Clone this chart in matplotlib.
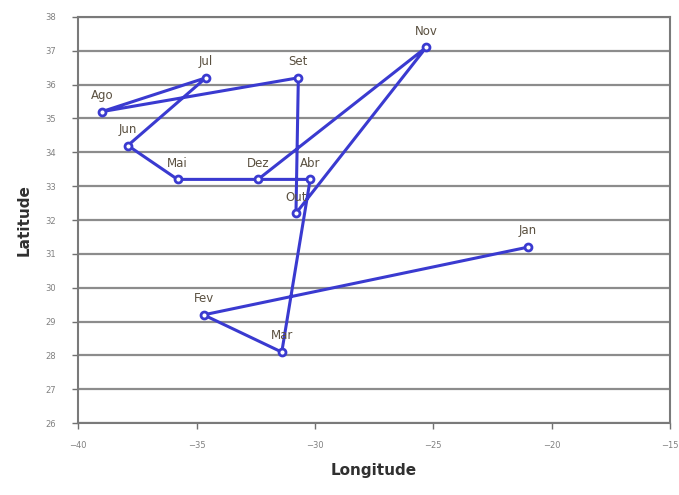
import matplotlib
matplotlib.use("Agg")
import matplotlib.pyplot as plt

# ─── Data ─────────────────────────────────────────────────────────────────────
months = ["Jan", "Fev", "Mar", "Abr", "Mai", "Jun", "Jul", "Ago", "Set", "Out", "Nov", "Dez"]
lon = [-21.0, -34.7, -31.4, -30.2, -35.8, -37.9, -34.6, -39.0, -30.7, -30.8, -25.3, -32.4]
lat = [31.2, 29.2, 28.1, 33.2, 33.2, 34.2, 36.2, 35.2, 36.2, 32.2, 37.1, 33.2]

BLUE = "#3a3ad0"
GRID = "#8c8c8c"

fig = plt.figure(figsize=(6.79, 4.95), dpi=100)
ax = fig.add_axes([0.115, 0.145, 0.872, 0.821])

ax.plot(lon, lat, color=BLUE, lw=2.2, marker="o", ms=5,
        mfc="white", mec=BLUE, mew=2, zorder=3)

for m, x, y in zip(months, lon, lat):
    ax.annotate(m, (x, y), xytext=(0, 7), textcoords="offset points",
                ha="center", va="bottom", fontsize=8.5, color="#5a5040", zorder=4)

ax.set_xlim(-40, -15)
ax.set_ylim(26, 38)
ax.set_xticks([-40, -35, -30, -25, -20, -15])
ax.set_yticks(range(26, 39))
ax.tick_params(labelsize=6, colors="#707070", length=4, width=1)
ax.tick_params(axis="x", pad=9)
ax.tick_params(axis="y", pad=12)
for lbl in ax.get_xticklabels() + ax.get_yticklabels():
    lbl.set_color("#808080")

ax.grid(True, axis="y", color=GRID, lw=1.6)
ax.set_axisbelow(True)
for s in ax.spines.values():
    s.set_color("#7a7a7a")
    s.set_linewidth(1.5)

ax.set_xlabel("Longitude", fontsize=11, fontweight="bold", color="#303030", labelpad=9)
ax.set_ylabel("Latitude", fontsize=11, fontweight="bold", color="#303030", labelpad=10)

fig.savefig("out.png", dpi=100)
